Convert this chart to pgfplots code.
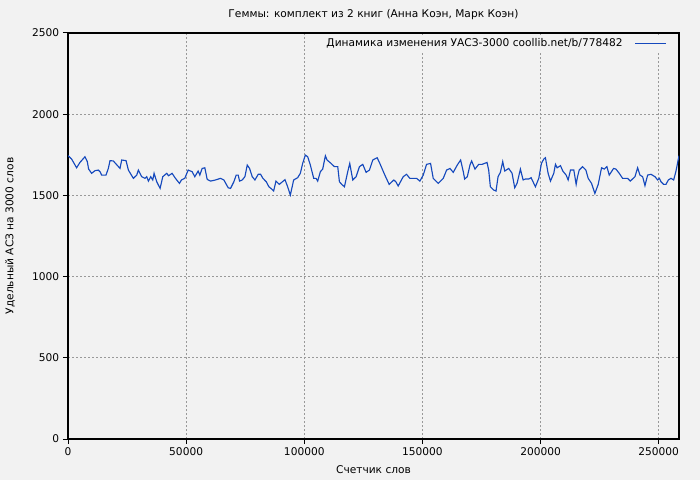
\documentclass[border=0pt]{standalone}
\usepackage{fontspec}
\setmainfont{DejaVu Sans}
\usepackage{pgfplots}
\pgfplotsset{compat=1.18}
\definecolor{bgcol}{HTML}{F2F2F2}
\definecolor{linecol}{HTML}{1549BD}
\definecolor{gridcol}{HTML}{999999}
\begin{document}
\fontsize{8}{10}\selectfont
\begin{tikzpicture}
  \fill[bgcol] (-51bp,-30.75bp) rectangle (474bp,329.25bp);
  \begin{axis}[
    at={(0,0)}, anchor=south west,
    scale only axis,
    width=458.25bp, height=304.5bp,
    xmin=0, xmax=258600,
    ymin=0, ymax=2500,
    xtick={0,50000,100000,150000,200000,250000},
    ytick={0,500,1000,1500,2000,2500},
    scaled x ticks=false, scaled y ticks=false,
    /pgf/number format/assume math mode=true,
    /pgf/number format/fixed,
    /pgf/number format/1000 sep={},
    tick align=outside,
    major tick length=3.75bp,
    xtick pos=bottom, ytick pos=left,
    tick style={black, line width=0.75bp},
    axis line style={black, line width=0.9bp},
    axis background/.style={fill=bgcol},
    grid=major,
    major grid style={gridcol, line width=0.6bp, dash pattern=on 1.5bp off 1.5bp},
    ticklabel style={font=\fontsize{8}{10}\selectfont},
    title={Геммы: комплект из 2 книг (Анна Коэн, Марк Коэн)},
    every axis title/.style={at={(rel axis cs:0.5,1)}, yshift=13.5bp, anchor=center, font=\fontsize{8}{10}\selectfont},
    xlabel={Счетчик слов},
    every axis x label/.style={at={(rel axis cs:0.5,0)}, yshift=-23.25bp, anchor=center, font=\fontsize{8}{10}\selectfont},
    ylabel={Удельный АСЗ на 3000 слов},
    every axis y label/.style={at={(rel axis cs:0,0.5)}, xshift=-43.5bp, rotate=90, anchor=center, font=\fontsize{8}{10}\selectfont},
    legend plot pos=right,
    legend image code/.code={\path (0cm,0cm); \draw[#1] (0.25cm,0cm) -- (1.05cm,0cm);},
    legend style={at={(rel axis cs:1,1)}, anchor=north east, xshift=-8.5bp, yshift=-1bp,
      draw=none, fill=bgcol, font=\fontsize{8}{10}\selectfont, inner sep=1bp},
  ]
    \addplot[color=linecol, line width=0.85bp, mark=none] coordinates {
      (0,1745) (1526,1724) (3646,1670) (5060,1703) (7180,1738) (8170,1708)
      (8730,1662) (10000,1636) (11420,1652) (12840,1656) (13540,1646) (14250,1625)
      (16080,1625) (17070,1666) (17780,1714) (19190,1712) (22020,1666) (22720,1718)
      (24560,1714) (25550,1656) (27670,1605) (29090,1625) (29790,1656) (31200,1615)
      (32620,1605) (33330,1615) (34030,1588) (35020,1615) (35870,1595) (36430,1636)
      (37560,1584) (38980,1543) (40110,1615) (41800,1636) (42510,1621) (43500,1630)
      (44060,1636) (45480,1605) (47170,1574) (48020,1595) (49430,1605) (50850,1656)
      (52540,1646) (53670,1615) (55080,1650) (55790,1625) (56780,1666) (57910,1670)
      (58900,1599) (60310,1588) (62430,1595) (64550,1605) (65970,1595) (67800,1547)
      (68790,1543) (70200,1584) (71190,1625) (72040,1625) (72610,1588) (73740,1595)
      (74870,1615) (75860,1687) (76850,1666) (77980,1615) (79110,1595) (80520,1630)
      (81510,1630) (82500,1605) (83910,1584) (85040,1553) (85900,1543) (87030,1527)
      (88020,1588) (89430,1568) (91830,1597) (92970,1553) (94100,1502) (95510,1595)
      (97200,1609) (98340,1636) (99320,1697) (100450,1748) (101450,1738) (102570,1687)
      (103990,1605) (104980,1605) (105680,1588) (106810,1646) (107800,1662) (108930,1744)
      (109640,1718) (111330,1697) (112750,1677) (114160,1677) (114870,1584) (115860,1568)
      (116990,1553) (118400,1646) (119250,1697) (120520,1595) (121930,1615) (123350,1677)
      (124760,1691) (126170,1642) (127580,1656) (129000,1718) (130850,1732) (131980,1697)
      (134100,1625) (135930,1568) (137910,1595) (138760,1584) (139750,1558) (141870,1615)
      (143280,1630) (144690,1605) (147520,1605) (148930,1588) (150350,1625) (151750,1691)
      (153450,1697) (154580,1605) (156700,1574) (158820,1605) (160240,1656) (161650,1666)
      (163060,1642) (164760,1687) (166170,1718) (167300,1646) (167870,1601) (169000,1615)
      (170130,1687) (170830,1712) (172250,1662) (173810,1691) (175230,1691) (177350,1703)
      (178050,1656) (178760,1553) (180170,1533) (181160,1527) (182010,1615) (183000,1642)
      (183990,1708) (184840,1650) (186530,1666) (187950,1636) (189070,1547) (190060,1574)
      (191480,1662) (192610,1595) (193600,1601) (195010,1601) (196000,1609) (197830,1553)
      (199250,1605) (200380,1697) (201370,1724) (202070,1732) (203200,1636) (204190,1588)
      (205600,1636) (206310,1691) (207020,1670) (208430,1683) (209420,1650) (210830,1625)
      (211680,1595) (212670,1656) (214080,1656) (215070,1568) (215650,1615) (216360,1656)
      (217770,1677) (219180,1656) (220170,1605) (221580,1574) (223000,1512) (224410,1568)
      (225820,1670) (226950,1662) (228080,1677) (229070,1625) (230910,1666) (231900,1662)
      (233310,1636) (234730,1605) (236850,1605) (237980,1588) (239960,1615) (241080,1670)
      (242080,1625) (243210,1615) (244190,1560) (245320,1625) (246740,1630) (248440,1615)
      (249560,1595) (250270,1605) (250980,1584) (252100,1568) (253090,1568) (254080,1595)
      (255210,1605) (256340,1595) (257330,1650) (258600,1745)
    };
    \addlegendentry{Динамика изменения УАСЗ-3000 coollib.net/b/778482}
  \end{axis}
  \pgfresetboundingbox
  \path[use as bounding box] (-51bp,-30.75bp) rectangle (474bp,329.25bp);
\end{tikzpicture}
\end{document}
